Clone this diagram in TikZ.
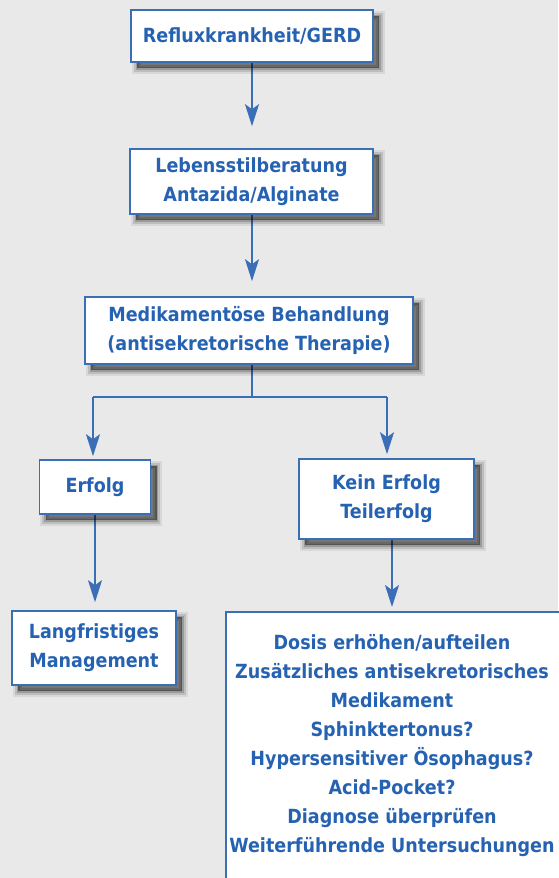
\documentclass[tikz,border=0pt]{standalone}
\usepackage{fontspec}
\setmainfont{DejaVu Sans}[FakeStretch=0.9]
\usetikzlibrary{arrows.meta,backgrounds}
\definecolor{bg}{RGB}{233,233,233}
\definecolor{txt}{RGB}{38,98,178}
\definecolor{bord}{RGB}{58,110,182}
\begin{document}
\begin{tikzpicture}[x=1pt,y=-1pt,
  lbl/.style={text=txt,font=\fontsize{19.5}{29}\selectfont\bfseries,align=center,inner sep=0pt},
  shd/.style={
    preaction={draw=black,fill=none,line width=11pt,opacity=0.07,transform canvas={xshift=6pt,yshift=-6pt}},
    preaction={draw=black,fill=none,line width=7pt,opacity=0.12,transform canvas={xshift=6pt,yshift=-6pt}},
    preaction={draw=black,fill=none,line width=3pt,opacity=0.18,transform canvas={xshift=6pt,yshift=-6pt}},
    preaction={fill=black,draw=none,opacity=0.45,transform canvas={xshift=6pt,yshift=-6pt}}},
  box/.style={lbl,draw=bord,line width=1.6pt,fill=white,shd},
  arr/.style={draw=bord,line width=1.6pt,-{Stealth[length=22pt,width=14pt,inset=5pt]}},
  ln/.style={draw=bord,line width=1.6pt}]
\useasboundingbox (0,0) rectangle (558,878);
\node[box,minimum width=242pt,minimum height=52pt] (b1) at (252,36) {Refluxkrankheit/GERD};
\node[box,minimum width=243pt,minimum height=65pt] (b2) at (251.5,181.5) {Lebensstilberatung\\Antazida/Alginate};
\node[box,minimum width=328pt,minimum height=67pt] (b3) at (249,330.5) {Medikamentöse Behandlung\\(antisekretorische Therapie)};
\node[box,minimum width=111pt,minimum height=54pt] (b4) at (95,487) {Erfolg};
\node[box,minimum width=175pt,minimum height=80pt] (b5) at (386.5,499) {Kein Erfolg\\Teilerfolg};
\node[box,minimum width=164pt,minimum height=74pt] (b6) at (94,648) {Langfristiges\\Management};
\node[box,anchor=north west,minimum width=345pt,minimum height=300pt] (b7) at (225,611) {};
\node[lbl] (t7) at (392,746) {Dosis erhöhen/aufteilen\\Zusätzliches antisekretorisches\\Medikament\\Sphinktertonus?\\Hypersensitiver Ösophagus?\\Acid-Pocket?\\Diagnose überprüfen\\Weiterführende Untersuchungen};
\coordinate (jc) at (252,397);
\coordinate (jl) at (93,397);
\coordinate (jr) at (387,397);
\begin{scope}[on background layer]
\fill[bg] (0,0) rectangle (558,878);
\draw[arr,shorten >=22pt] (b1.south) -- (b1.south |- b2.north);
\draw[arr,shorten >=15pt] (jc |- b2.south) -- (jc |- b3.north);
\draw[ln] (jc |- b3.south) -- (jc);
\draw[ln] (jl) -- (jr);
\draw[arr,shorten >=3pt] (jl) -- (jl |- b4.north);
\draw[arr,shorten >=4pt] (jr) -- (jr |- b5.north);
\draw[arr,shorten >=8pt] (b4.south) -- (b4.south |- b6.north);
\draw[arr,shorten >=4pt] (t7 |- b5.south) -- (t7 |- b7.north);
\end{scope}
\end{tikzpicture}
\end{document}
